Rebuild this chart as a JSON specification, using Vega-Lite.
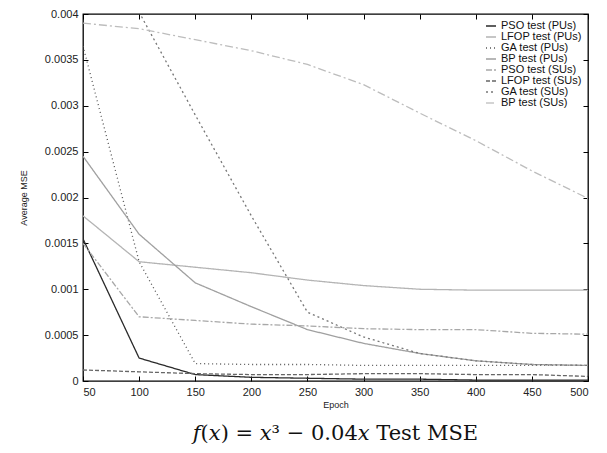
{
  "$schema": "https://vega.github.io/schema/vega-lite/v6.json",
  "autosize": {"type": "none"},
  "padding": {"left": 83, "top": 14, "right": 19, "bottom": 72},
  "width": 505,
  "height": 367,
  "background": "white",
  "title": {
    "text": "𝑓(𝑥) = 𝑥³ − 0.04𝑥 Test MSE",
    "orient": "bottom",
    "font": "DejaVu Serif",
    "fontSize": 21,
    "fontWeight": "normal",
    "color": "#111",
    "anchor": "middle",
    "offset": 14
  },
  "config": {
    "view": {"stroke": "#000", "strokeWidth": 1.3},
    "axis": {
      "domain": false,
      "grid": false,
      "tickColor": "#000",
      "tickSize": -5,
      "labelFont": "Liberation Sans",
      "labelFontSize": 11,
      "labelColor": "#222",
      "titleFont": "Liberation Sans",
      "titleFontSize": 9,
      "titleFontWeight": "normal",
      "titleColor": "#222"
    }
  },
  "data": {
    "values": [
      {"series": "PSO test (PUs)", "epoch": 50, "mse": 0.00155},
      {"series": "PSO test (PUs)", "epoch": 100, "mse": 0.00025},
      {"series": "PSO test (PUs)", "epoch": 150, "mse": 0.00007},
      {"series": "PSO test (PUs)", "epoch": 200, "mse": 0.00004},
      {"series": "PSO test (PUs)", "epoch": 250, "mse": 0.00003},
      {"series": "PSO test (PUs)", "epoch": 300, "mse": 0.00002},
      {"series": "PSO test (PUs)", "epoch": 350, "mse": 0.00002},
      {"series": "PSO test (PUs)", "epoch": 400, "mse": 0.00001},
      {"series": "PSO test (PUs)", "epoch": 450, "mse": 0.00001},
      {"series": "PSO test (PUs)", "epoch": 500, "mse": 0.00001},

      {"series": "LFOP test (PUs)", "epoch": 50, "mse": 0.0018},
      {"series": "LFOP test (PUs)", "epoch": 100, "mse": 0.0013},
      {"series": "LFOP test (PUs)", "epoch": 150, "mse": 0.00124},
      {"series": "LFOP test (PUs)", "epoch": 200, "mse": 0.00118},
      {"series": "LFOP test (PUs)", "epoch": 250, "mse": 0.0011},
      {"series": "LFOP test (PUs)", "epoch": 300, "mse": 0.00104},
      {"series": "LFOP test (PUs)", "epoch": 350, "mse": 0.001},
      {"series": "LFOP test (PUs)", "epoch": 400, "mse": 0.00099},
      {"series": "LFOP test (PUs)", "epoch": 450, "mse": 0.00099},
      {"series": "LFOP test (PUs)", "epoch": 500, "mse": 0.00099},

      {"series": "GA test (PUs)", "epoch": 50, "mse": 0.00365},
      {"series": "GA test (PUs)", "epoch": 100, "mse": 0.0013},
      {"series": "GA test (PUs)", "epoch": 150, "mse": 0.00019},
      {"series": "GA test (PUs)", "epoch": 200, "mse": 0.00018},
      {"series": "GA test (PUs)", "epoch": 250, "mse": 0.00018},
      {"series": "GA test (PUs)", "epoch": 300, "mse": 0.00017},
      {"series": "GA test (PUs)", "epoch": 350, "mse": 0.00017},
      {"series": "GA test (PUs)", "epoch": 400, "mse": 0.00017},
      {"series": "GA test (PUs)", "epoch": 450, "mse": 0.00017},
      {"series": "GA test (PUs)", "epoch": 500, "mse": 0.00017},

      {"series": "BP test (PUs)", "epoch": 50, "mse": 0.00245},
      {"series": "BP test (PUs)", "epoch": 100, "mse": 0.0016},
      {"series": "BP test (PUs)", "epoch": 150, "mse": 0.00107},
      {"series": "BP test (PUs)", "epoch": 200, "mse": 0.00081},
      {"series": "BP test (PUs)", "epoch": 250, "mse": 0.00056},
      {"series": "BP test (PUs)", "epoch": 300, "mse": 0.00041},
      {"series": "BP test (PUs)", "epoch": 350, "mse": 0.0003},
      {"series": "BP test (PUs)", "epoch": 400, "mse": 0.00022},
      {"series": "BP test (PUs)", "epoch": 450, "mse": 0.00018},
      {"series": "BP test (PUs)", "epoch": 500, "mse": 0.00017},

      {"series": "PSO test (SUs)", "epoch": 50, "mse": 0.0015},
      {"series": "PSO test (SUs)", "epoch": 100, "mse": 0.0007},
      {"series": "PSO test (SUs)", "epoch": 150, "mse": 0.00066},
      {"series": "PSO test (SUs)", "epoch": 200, "mse": 0.00062},
      {"series": "PSO test (SUs)", "epoch": 250, "mse": 0.0006},
      {"series": "PSO test (SUs)", "epoch": 300, "mse": 0.00057},
      {"series": "PSO test (SUs)", "epoch": 350, "mse": 0.00056},
      {"series": "PSO test (SUs)", "epoch": 400, "mse": 0.00056},
      {"series": "PSO test (SUs)", "epoch": 450, "mse": 0.00052},
      {"series": "PSO test (SUs)", "epoch": 500, "mse": 0.00051},

      {"series": "LFOP test (SUs)", "epoch": 50, "mse": 0.00012},
      {"series": "LFOP test (SUs)", "epoch": 100, "mse": 0.0001},
      {"series": "LFOP test (SUs)", "epoch": 150, "mse": 0.00008},
      {"series": "LFOP test (SUs)", "epoch": 200, "mse": 0.00007},
      {"series": "LFOP test (SUs)", "epoch": 250, "mse": 0.00007},
      {"series": "LFOP test (SUs)", "epoch": 300, "mse": 0.00008},
      {"series": "LFOP test (SUs)", "epoch": 350, "mse": 0.00008},
      {"series": "LFOP test (SUs)", "epoch": 400, "mse": 0.00007},
      {"series": "LFOP test (SUs)", "epoch": 450, "mse": 0.00007},
      {"series": "LFOP test (SUs)", "epoch": 500, "mse": 0.00005},

      {"series": "GA test (SUs)", "epoch": 100, "mse": 0.00402},
      {"series": "GA test (SUs)", "epoch": 150, "mse": 0.0029},
      {"series": "GA test (SUs)", "epoch": 200, "mse": 0.0018},
      {"series": "GA test (SUs)", "epoch": 250, "mse": 0.00075},
      {"series": "GA test (SUs)", "epoch": 300, "mse": 0.00048},
      {"series": "GA test (SUs)", "epoch": 350, "mse": 0.0003},
      {"series": "GA test (SUs)", "epoch": 400, "mse": 0.00022},
      {"series": "GA test (SUs)", "epoch": 450, "mse": 0.00018},
      {"series": "GA test (SUs)", "epoch": 500, "mse": 0.00017},

      {"series": "BP test (SUs)", "epoch": 50, "mse": 0.0039},
      {"series": "BP test (SUs)", "epoch": 100, "mse": 0.00384},
      {"series": "BP test (SUs)", "epoch": 150, "mse": 0.00372},
      {"series": "BP test (SUs)", "epoch": 200, "mse": 0.0036},
      {"series": "BP test (SUs)", "epoch": 250, "mse": 0.00345},
      {"series": "BP test (SUs)", "epoch": 300, "mse": 0.00323},
      {"series": "BP test (SUs)", "epoch": 350, "mse": 0.00292},
      {"series": "BP test (SUs)", "epoch": 400, "mse": 0.00262},
      {"series": "BP test (SUs)", "epoch": 450, "mse": 0.00229},
      {"series": "BP test (SUs)", "epoch": 500, "mse": 0.00199}
    ]
  },
  "layer": [
    {
      "mark": {"type": "line", "strokeWidth": 1.3, "clip": true},
      "encoding": {
        "x": {
          "field": "epoch", "type": "quantitative",
          "scale": {"domain": [50, 500], "nice": false, "zero": false},
          "axis": {"title": "Epoch", "values": [50,100,150,200,250,300,350,400,450,500], "labelPadding": 10, "titlePadding": 3}
        },
        "y": {
          "field": "mse", "type": "quantitative",
          "scale": {"domain": [0, 0.004], "nice": false},
          "axis": {"title": "Average MSE", "values": [0,0.0005,0.001,0.0015,0.002,0.0025,0.003,0.0035,0.004], "format": "~g", "labelPadding": 10, "titlePadding": 16}
        },
        "color": {
          "field": "series", "type": "nominal",
          "sort": ["PSO test (PUs)","LFOP test (PUs)","GA test (PUs)","BP test (PUs)","PSO test (SUs)","LFOP test (SUs)","GA test (SUs)","BP test (SUs)"],
          "scale": {
            "domain": ["PSO test (PUs)","LFOP test (PUs)","GA test (PUs)","BP test (PUs)","PSO test (SUs)","LFOP test (SUs)","GA test (SUs)","BP test (SUs)"],
            "range": ["#2a2a2a","#b4b4b4","#555555","#a0a0a0","#a8a8a8","#666666","#777777","#bdbdbd"]
          },
          "legend": {
            "title": null,
            "orient": "top-right",
            "offset": 6,
            "labelFont": "Liberation Sans",
            "labelFontSize": 11,
            "labelColor": "#111",
            "rowPadding": 0,
            "symbolType": "stroke",
            "symbolSize": 100,
            "symbolStrokeWidth": 1.3,
            "padding": 0
          }
        },
        "strokeDash": {
          "field": "series", "type": "nominal",
          "scale": {
            "domain": ["PSO test (PUs)","LFOP test (PUs)","GA test (PUs)","BP test (PUs)","PSO test (SUs)","LFOP test (SUs)","GA test (SUs)","BP test (SUs)"],
            "range": [[1,0],[1,0],[1,3],[1,0],[6,2,2,2],[4,2],[2,3],[8,3,2,3]]
          },
          "legend": null
        }
      }
    },
    {
      "mark": {"type": "point", "opacity": 0},
      "encoding": {
        "x": {
          "field": "epoch", "type": "quantitative",
          "scale": {"domain": [50, 500], "nice": false, "zero": false},
          "axis": {"orient": "top", "title": null, "labels": false, "values": [50,100,150,200,250,300,350,400,450,500]}
        },
        "y": {
          "field": "mse", "type": "quantitative",
          "scale": {"domain": [0, 0.004], "nice": false},
          "axis": {"orient": "right", "title": null, "labels": false, "values": [0,0.0005,0.001,0.0015,0.002,0.0025,0.003,0.0035,0.004]}
        }
      }
    }
  ],
  "resolve": {"axis": {"x": "independent", "y": "independent"}}
}
